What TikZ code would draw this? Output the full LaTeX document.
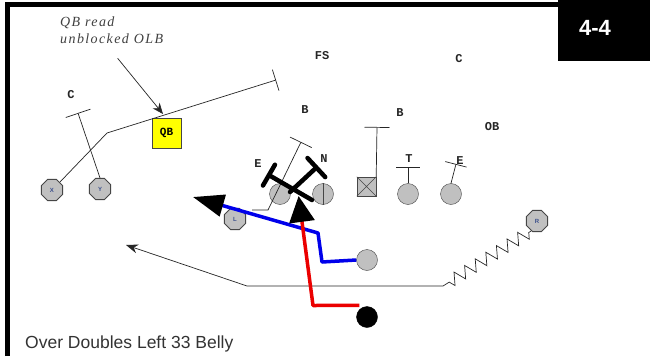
\documentclass[tikz,border=0pt]{standalone}
\usepackage{fontspec}
\setmainfont{Liberation Serif}
\setsansfont{Liberation Sans}
\newfontfamily\notafont[LetterSpace=10]{Liberation Serif}
\newfontfamily\posfont{Liberation Mono}
\usetikzlibrary{arrows.meta,shapes.geometric,decorations.pathmorphing}
\definecolor{relleno}{RGB}{192,192,192}
\definecolor{borde}{RGB}{70,70,70}
\definecolor{letra}{RGB}{60,80,140}
\definecolor{amarillo}{RGB}{255,255,0}
\definecolor{azul}{RGB}{0,0,235}
\definecolor{rojo}{RGB}{235,0,0}
\begin{document}
\begin{tikzpicture}[
    x=1pt, y=-1pt,
    jugador/.style={circle, draw=borde, fill=relleno, minimum size=21pt, inner sep=0pt},
    receptor/.style={regular polygon, regular polygon sides=8, draw=borde, thick,
        fill=relleno, minimum size=23pt, inner sep=0pt, text=letra,
        font=\sffamily\bfseries\fontsize{6}{6}\selectfont},
    posicion/.style={font=\posfont\bfseries\fontsize{12}{12}\selectfont, text=black!85},
    fina/.style={line width=0.7pt, black!85},
    bloqueo/.style={fina, -{Bar[width=#1]}},
    choque/.style={line width=4.5pt, line cap=round, -{Bar[width=#1, round]}},
    ruta/.style={line width=3.5pt, line join=round}
]

            %---------------- MARCO ----------------
            \useasboundingbox (0,0) rectangle (650,356);
            \fill[white] (0,0) rectangle (650,356);
            \draw[line width=4.5pt] (7.5,356) -- (7.5,4.5) -- (650,4.5);

            \fill[black] (558,0) rectangle (650,61);
            \node[text=white, font=\sffamily\bfseries\fontsize{22}{22}\selectfont]
            (formacion) at (595,28) {4-4};

            %---------------- NOTA ----------------
            \node[anchor=north west, align=left, text=black!75,
                  font=\notafont\itshape\fontsize{14}{17}\selectfont, inner sep=0pt]
            (nota) at (60,17) {QB read\\unblocked OLB};

            %---------------- DEFENSA ----------------
            \node[posicion] (cIzq) at (71,95) {C};
            \node[posicion] (fs) at (322,56) {FS};
            \node[posicion] (bIzq) at (305,110) {B};
            \node[posicion] (bDer) at (400,113) {B};
            \node[posicion] (cDer) at (459,59) {C};
            \node[posicion] (ob) at (492,127) {OB};
            \node[posicion] (eIzq) at (258,164) {E};
            \node[posicion] (n) at (324,159) {N};
            \node[posicion] (t) at (409,159) {T};
            \node[posicion] (eDer) at (460,161) {E};

            %---------------- ATAQUE ----------------
            \node[receptor] (x) at (52,190) {X};
            \node[receptor] (y) at (100,189) {Y};
            \node[receptor] (l) at (235,219) {L};
            \node[receptor] (r) at (537,221) {R};

            \node[draw=borde, fill=amarillo, minimum width=29pt, minimum height=30pt,
                  inner sep=0pt, font=\posfont\bfseries\fontsize{11}{11}\selectfont]
            (qb) at (166.5,133) {QB};

            \node[jugador] (guardia) at (280,194) {};
            \node[jugador] (centro) at (323,194) {};
            \draw[borde] (centro.north) -- (centro.south);
            \node[draw=borde, fill=relleno, minimum size=19pt, inner sep=0pt]
            (ala) at (366.5,186.5) {};
            \draw[borde] (ala.north west) -- (ala.south east)
                         (ala.north east) -- (ala.south west);
            \node[jugador] (tackle) at (408,194) {};
            \node[jugador] (extremo) at (451,194) {};

            \node[jugador] (fullback) at (367,260) {};
            \node[jugador, fill=black, draw=black] (balon) at (367,317) {};

            %---------------- BLOQUEOS FINOS ----------------
            \draw[bloqueo=22pt] (x.north east) -- (107,133) -- (276,80);
            \draw[bloqueo=26pt] (y.north) -- (78,113);
            \draw[bloqueo=24pt] (252,210) -- (268,210) -- (301,142);
            \draw[bloqueo=25pt] (ala.north east) -- (377,127);
            \draw[bloqueo=24pt] (tackle.north) -- (408,167);
            \draw[bloqueo=22pt] (extremo.north) -- (456,164);

            % lectura del QB
            \draw[fina, -{Stealth[length=11pt, width=9pt]}]
            ([xshift=6pt]nota.south) ++(0,14) -- (163,114);

            %---------------- MOTION DE R ----------------
            \draw[fina, -{Stealth[length=12pt, width=9pt]}]
            (r.240)
            decorate[decoration={zigzag, segment length=12.5pt, amplitude=6pt,
                                 pre length=3pt, post length=3pt}]
            { -- (443,286) }
            -- (247,286) -- (126,245);

            %---------------- BLOQUEOS DE LA LINEA ----------------
            \draw[choque=24pt] (312,200) -- (267,174);
            \draw[choque=26pt] (290,192) -- (318,166);

            %---------------- RUTAS ----------------
            \draw[ruta, azul, -{Triangle[length=31pt, width=22pt, color=black]}]
            (fullback.west) -- (322,262) -- (318,233) -- (193,197);

            \draw[ruta, rojo, -{Triangle[length=26pt, width=25pt, color=black]}]
            ([yshift=4pt]balon.north west) -- (313,305.5) -- (298.6,196);

            %---------------- JUGADA ----------------
            \node[anchor=base west, inner sep=0pt, text=black!80,
                  font=\sffamily\fontsize{17.5}{17.5}\selectfont]
            (jugada) at (25,348) {Over Doubles Left 33 Belly};

        \end{tikzpicture}
\end{document}
